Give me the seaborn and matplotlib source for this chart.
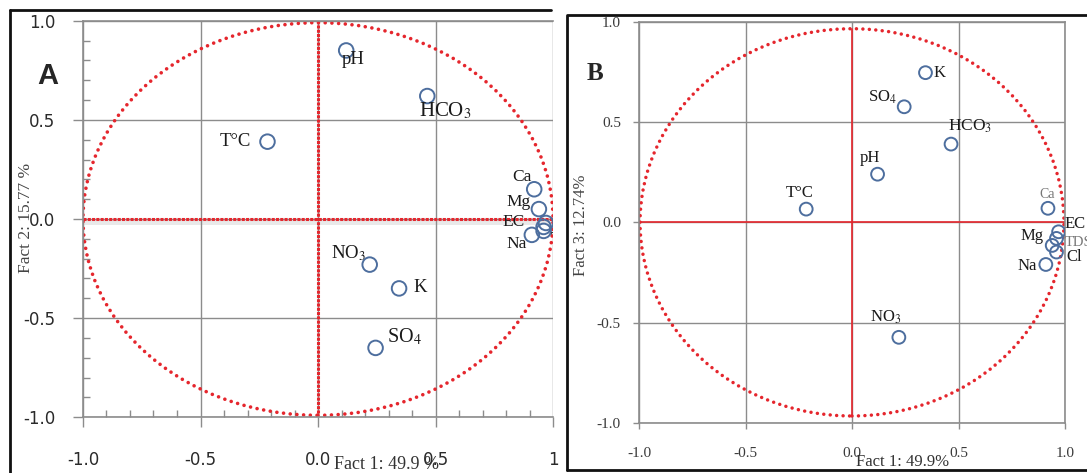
import matplotlib
matplotlib.use("Agg")
import matplotlib.pyplot as plt
import seaborn as sns
import pandas as pd
from matplotlib.patches import Ellipse
from matplotlib.lines import Line2D
from matplotlib.ticker import MultipleLocator

# ---------------- data ----------------
variables = ["pH", "HCO3", "T°C", "Ca", "Mg", "EC", "TDS", "Cl", "Na", "NO3", "K", "SO4"]
fact1 = [0.12, 0.465, -0.215, 0.92, 0.94, 0.97, 0.96, 0.96, 0.91, 0.22, 0.345, 0.245]
fact2 = [0.85, 0.62, 0.39, 0.15, 0.05, -0.02, -0.04, -0.06, -0.08, -0.23, -0.35, -0.65]
fact3 = [0.24, 0.39, 0.066, 0.07, -0.115, -0.047, -0.08, -0.148, -0.21, -0.573, 0.746, 0.576]
tick_values = [-1.0, -0.5, 0.0, 0.5, 1.0]
xtick_labels_a = ["-1.0", "-0.5", "0.0", "0.5", "1"]
ytick_labels_a = ["-1.0", "-0.5", "0.0", "0.5", "1.0"]
tick_labels_b = ["-1.0", "-0.5", "0.0", "0.5", "1.0"]
xlabel_a = "Fact 1: 49.9 %"
ylabel_a = "Fact 2: 15.77 %"
xlabel_b = "Fact 1: 49.9%"
ylabel_b = "Fact 3: 12.74%"
display = {"HCO3": "HCO$_3$", "NO3": "NO$_3$", "SO4": "SO$_4$"}

df = pd.DataFrame({"var": variables, "fact1": fact1, "fact2": fact2, "fact3": fact3})

# ---------------- style ----------------
sns.set_style("white")
plt.rcParams["font.family"] = ["Liberation Serif", "DejaVu Serif"]
plt.rcParams["mathtext.fontset"] = "stix"

W, H = 1087, 473
fig = plt.figure(figsize=(W / 100, H / 100), dpi=100)
fig.patch.set_facecolor("white")

GRID = "#8c8c8c"
RED = "#e5262d"
BLUE = "#4d6e9e"
TXT = "#1a1a1a"

# label placement (offsets from point, data units): dx, dy, ha, size, color
lab_a = {
    "pH": (0.03, -0.045, "center", 13.5, TXT),
    "HCO3": (0.075, -0.075, "center", 15, TXT),
    "T°C": (-0.07, 0.0, "right", 13.5, TXT),
    "Ca": (-0.01, 0.06, "right", 12.5, TXT),
    "Mg": (-0.033, 0.035, "right", 12.5, TXT),
    "EC": (-0.09, 0.005, "right", 12.5, TXT),
    "TDS": (0.03, -0.06, "left", 12.5, TXT),
    "Na": (-0.02, -0.045, "right", 12.5, TXT),
    "NO3": (-0.015, 0.06, "right", 13.5, TXT),
    "K": (0.06, 0.005, "left", 13.5, TXT),
    "SO4": (0.05, 0.055, "left", 14.5, TXT),
}
lab_b = {
    "K": (0.04, 0.0, "left", 12, TXT),
    "SO4": (-0.035, 0.045, "right", 12, TXT),
    "HCO3": (0.09, 0.09, "center", 12.5, TXT),
    "pH": (-0.035, 0.08, "center", 12, TXT),
    "T°C": (-0.03, 0.082, "center", 12, TXT),
    "Ca": (-0.005, 0.07, "center", 10, "#777777"),
    "EC": (0.027, 0.04, "left", 12, TXT),
    "TDS": (0.04, -0.02, "left", 10.5, "#777777"),
    "Cl": (0.045, -0.026, "left", 12, TXT),
    "Mg": (-0.04, 0.045, "right", 12, TXT),
    "Na": (-0.04, -0.006, "right", 12, TXT),
    "NO3": (-0.06, 0.10, "center", 12, TXT),
}

# ---------------- Panel A ----------------
axA = fig.add_axes([83 / W, 1 - 417.3 / H, 470 / W, 396.6 / H])
axA.set_xlim(-1, 1)
axA.set_ylim(-1, 1)
axA.set_xticks(tick_values)
axA.set_xticklabels(xtick_labels_a)
axA.set_yticks(tick_values)
axA.set_yticklabels(ytick_labels_a)
axA.xaxis.set_minor_locator(MultipleLocator(0.1))
axA.yaxis.set_minor_locator(MultipleLocator(0.1))
axA.grid(True, which="major", color=GRID, lw=1.0, zorder=0)
axA.set_axisbelow(True)
axA.tick_params(which="major", direction="out", length=7, width=1, color=GRID,
                bottom=True, left=True, labelsize=12, labelcolor="#2a2a2a")
axA.tick_params(axis="x", which="major", pad=17)
axA.tick_params(axis="y", which="major", pad=13)
axA.tick_params(which="minor", direction="in", length=5, width=1, color=GRID,
                bottom=True, left=True)
for lbl in axA.get_xticklabels() + axA.get_yticklabels():
    lbl.set_fontfamily("DejaVu Sans")
for s in ["left", "bottom", "top"]:
    axA.spines[s].set_color(GRID)
    axA.spines[s].set_linewidth(1.2)
axA.spines["right"].set_visible(False)

axA.axhspan(-0.03, 0.0, color="#e9e9e9", zorder=0.5, lw=0)
axA.axhline(0, color=RED, lw=2.2, ls=(0, (1, 0.4)), zorder=1)
axA.axvline(0, ymin=0.01, ymax=0.995, color=RED, lw=2.2, ls=(0, (1, 0.4)), zorder=1)
axA.add_patch(Ellipse((0, 0), 2.0, 1.98, fill=False, ec=RED, lw=2.6,
                      ls=(0, (0.01, 1.85)), capstyle="round", zorder=2))

sns.scatterplot(data=df, x="fact1", y="fact2", ax=axA, s=110, legend=False, zorder=3)
coll = axA.collections[-1]
coll.set_facecolor("none")
coll.set_edgecolor(BLUE)
coll.set_linewidth(1.4)
axA.set_xlabel("")
axA.set_ylabel("")

for v, x, y in zip(variables, fact1, fact2):
    if v not in lab_a:
        continue
    dx, dy, ha, size, col = lab_a[v]
    axA.text(x + dx, y + dy, display.get(v, v), ha=ha, va="center", fontsize=size,
             color=col, clip_on=True, zorder=4)

fig.text(387 / W, 1 - 464 / H, xlabel_a, ha="center", va="center", fontsize=13,
         color="#333333")
fig.text(26 / W, 1 - 218 / H, ylabel_a, ha="center", va="center", fontsize=12.5,
         rotation=90, color="#444444")
fig.text(48 / W, 1 - 76 / H, "A", ha="center", va="center", fontsize=21,
         fontweight="bold", family="Liberation Sans")

# ---------------- Panel B ----------------
axB = fig.add_axes([639 / W, 1 - 423 / H, 426 / W, 401.3 / H])
axB.set_xlim(-1, 1)
axB.set_ylim(-1, 1)
axB.set_xticks(tick_values)
axB.set_xticklabels(tick_labels_b)
axB.set_yticks(tick_values)
axB.set_yticklabels(tick_labels_b)
axB.grid(True, which="major", color=GRID, lw=1.0, zorder=0)
axB.set_axisbelow(True)
axB.tick_params(which="major", direction="out", length=4, width=1, color=GRID,
                bottom=True, left=True, labelsize=11, labelcolor="#3a3a3a")
axB.tick_params(axis="x", pad=13)
axB.tick_params(axis="y", pad=9)
for s in axB.spines.values():
    s.set_color(GRID)
    s.set_linewidth(1.2)

axB.axhline(0, color=RED, lw=1.2, zorder=1)
axB.axvline(0, ymin=0.017, ymax=0.983, color=RED, lw=1.2, zorder=1)
axB.add_patch(Ellipse((0, 0), 1.99, 1.93, fill=False, ec=RED, lw=2.5,
                      ls=(0, (0.01, 1.85)), capstyle="round", zorder=2))

sns.scatterplot(data=df, x="fact1", y="fact3", ax=axB, s=85, legend=False, zorder=3)
coll = axB.collections[-1]
coll.set_facecolor("none")
coll.set_edgecolor(BLUE)
coll.set_linewidth(1.4)
axB.set_xlabel("")
axB.set_ylabel("")

for v, x, y in zip(variables, fact1, fact3):
    dx, dy, ha, size, col = lab_b[v]
    axB.text(x + dx, y + dy, display.get(v, v), ha=ha, va="center", fontsize=size,
             color=col, clip_on=False, zorder=4)

fig.text(903 / W, 1 - 462 / H, xlabel_b, ha="center", va="center", fontsize=12,
         color="#333333")
fig.text(581 / W, 1 - 225 / H, ylabel_b, ha="center", va="center", fontsize=12,
         rotation=90, color="#444444")
fig.text(595 / W, 1 - 73 / H, "B", ha="center", va="center", fontsize=18,
         fontweight="bold", family="Liberation Serif")

# ---------------- frames ----------------
fig.add_artist(Line2D([10 / W, 10 / W], [1 - 10 / H, 0], color="#111111", lw=2.0))
fig.add_artist(Line2D([10 / W, 551 / W], [1 - 10 / H, 1 - 10 / H], color="#111111", lw=2.0))
fig.add_artist(Line2D([567 / W, 567 / W, 1.0, ], [1 - 470 / H, 1 - 15 / H, 1 - 15 / H],
                      color="#111111", lw=2.0))
fig.add_artist(Line2D([567 / W, 1.0], [1 - 470 / H, 1 - 470 / H], color="#111111", lw=2.0))

fig.savefig("out.png", dpi=100, facecolor="white")
